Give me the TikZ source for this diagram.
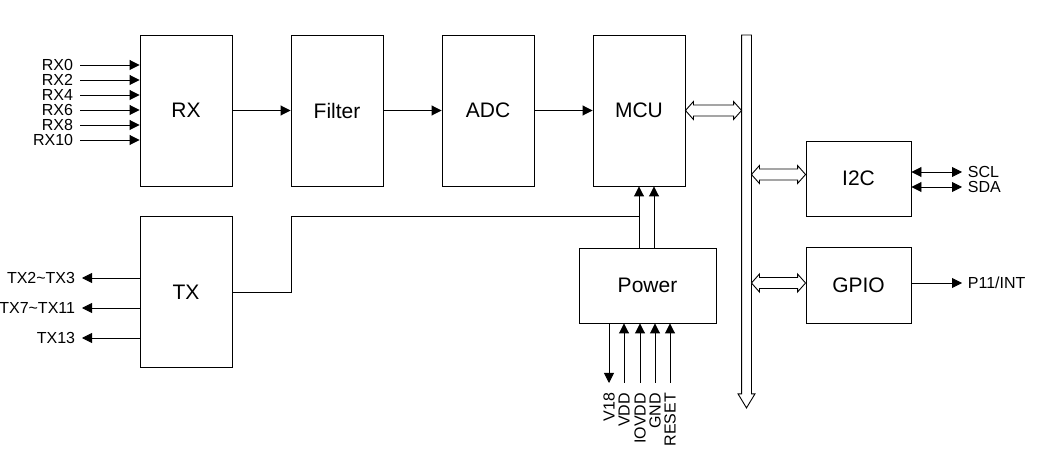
\documentclass[tikz,border=0pt]{standalone}
\usepackage{fontspec}
\setmainfont{Liberation Sans}
\usetikzlibrary{arrows.meta,positioning}

% hollow two-headed arrow between two points on one line
\newcommand{\hollowarrow}[2]{%
  \draw[fill=white] (#1) -- ([shift={(8,9)}]#1) -- ([shift={(8,5.5)}]#1)
    -- ([shift={(-8,5.5)}]#2) -- ([shift={(-8,9)}]#2) -- (#2)
    -- ([shift={(-8,-9)}]#2) -- ([shift={(-8,-5.5)}]#2)
    -- ([shift={(8,-5.5)}]#1) -- ([shift={(8,-9)}]#1) -- cycle;}

\begin{document}
\begin{tikzpicture}[x=1pt, y=-1pt, node distance=151pt, line width=0.9pt,
			block node/.style={draw, inner sep=0pt, minimum width=92pt, minimum height=151pt, font=\fontsize{21}{24}\selectfont},
			pin node/.style={inner sep=1.5pt, font=\fontsize{16}{18}\selectfont},
			arr/.style={-{Triangle[length=10pt,width=10pt]}},
			dblarr/.style={{Triangle[length=10pt,width=10pt]}-{Triangle[length=10pt,width=10pt]}}]
			
			\useasboundingbox (0,0) rectangle (1050,454);
			
			\node[block node] (rx) at (186,110.5) {RX};
			\node[block node] (filter) [right of=rx] {Filter};
			\node[block node] (adc) [right of=filter] {ADC};
			\node[block node] (mcu) [right of=adc] {MCU};
			\node[block node] (tx) [below of=rx, node distance=181.5pt] {TX};
			\node[block node, minimum width=137pt, minimum height=75pt] (power) at (647.5,285.5) {Power};
			\node[block node, minimum width=105pt, minimum height=75pt] (i2c) at (858.5,178.5) {I2C};
			\node[block node, minimum width=105pt, minimum height=76pt] (gpio) at (858.5,285) {GPIO};
			\node[minimum width=9pt, minimum height=358pt, inner sep=0pt, anchor=north] (bus) at (746.5,35) {};
			
			% bus
			\draw (bus.south west) -- (bus.north west) -- (bus.north east) -- (bus.south east)
			-- ++(3.5,0) -- ([yshift=-14pt]bus.south) -- ([xshift=-3.5pt]bus.south west) -- cycle;
			
			\node[pin node, anchor=east] (rx0) at (75,65) {RX0};
			\node[pin node, anchor=east] (rx2) at (75,80) {RX2};
			\node[pin node, anchor=east] (rx4) at (75,95) {RX4};
			\node[pin node, anchor=east] (rx6) at (75,110) {RX6};
			\node[pin node, anchor=east] (rx8) at (75,125) {RX8};
			\node[pin node, anchor=east] (rx10) at (75,140) {RX10};
			
			\path[arr, shorten <=5pt]
			(rx0.east) edge (rx0.east -| rx.west)
			(rx2.east) edge (rx2.east -| rx.west)
			(rx4.east) edge (rx4.east -| rx.west)
			(rx6.east) edge (rx6.east -| rx.west)
			(rx8.east) edge (rx8.east -| rx.west)
			(rx10.east) edge (rx10.east -| rx.west);
			
			\path[arr]
			(rx) edge (filter)
			(filter) edge (adc)
			(adc) edge (mcu);
			
			\node[pin node, anchor=east] (tx23) at (77,278) {TX2\textasciitilde TX3};
			\node[pin node, anchor=east] (tx711) at (77,308) {TX7\textasciitilde TX11};
			\node[pin node, anchor=east] (tx13) at (77,338) {TX13};
			
			\path[arr, shorten >=5pt]
			(tx23.east -| tx.west) edge (tx23.east)
			(tx711.east -| tx.west) edge (tx711.east)
			(tx13.east -| tx.west) edge (tx13.east);
			
			% TX line up to the MCU
			\coordinate (bend) at (291.5,216);
			\coordinate (mcuin) at ([xshift=15pt]mcu.south);
			\draw (tx.east) -| (bend) -- (bend -| mcu.south);
			\path[arr]
			(mcu.south |- power.north) edge (mcu.south)
			(mcuin |- power.north) edge (mcuin);
			
			\node[pin node, rotate=90, anchor=east] (v18) at (609,391) {V18};
			\node[pin node, rotate=90, anchor=east] (vdd) at (624,391) {VDD};
			\node[pin node, rotate=90, anchor=east] (iovdd) at (640,391) {IOVDD};
			\node[pin node, rotate=90, anchor=east] (gnd) at (655,391) {GND};
			\node[pin node, rotate=90, anchor=east] (reset) at (670,391) {RESET};
			
			\draw[arr, shorten >=8pt] (v18.east |- power.south) -- (v18.east);
			\path[arr, shorten <=8pt]
			(vdd.east) edge (vdd.east |- power.south)
			(iovdd.east) edge (iovdd.east |- power.south)
			(gnd.east) edge (gnd.east |- power.south)
			(reset.east) edge (reset.east |- power.south);
			
			% bus arrows
			\coordinate (busmcu) at (mcu.east -| bus.west);
			\coordinate (i2cin) at ([yshift=4pt]i2c.west);
			\coordinate (busi2c) at (i2cin -| bus.east);
			\coordinate (gpioin) at ([yshift=2pt]gpio.west);
			\coordinate (busgpio) at (gpioin -| bus.east);
			\hollowarrow{mcu.east}{busmcu}
			\hollowarrow{busi2c}{i2cin}
			\hollowarrow{busgpio}{gpioin}
			
			\node[pin node, anchor=west] (scl) at (966,172) {SCL};
			\node[pin node, anchor=west] (sda) at (966,187) {SDA};
			\node[pin node, anchor=west] (int) at (966,283) {P11/INT};
			
			\path[dblarr, shorten >=4pt]
			(scl.west -| i2c.east) edge (scl.west)
			(sda.west -| i2c.east) edge (sda.west);
			\draw[arr, shorten >=4pt] (int.west -| gpio.east) -- (int.west);
			\end{tikzpicture}
\end{document}
